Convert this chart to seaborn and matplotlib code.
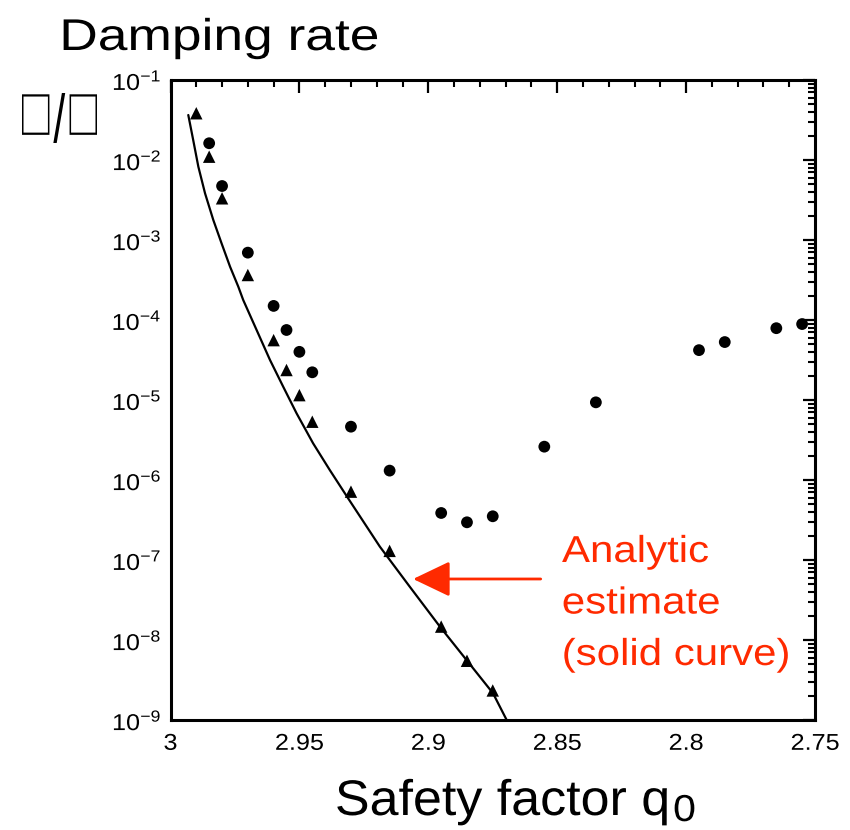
import matplotlib
matplotlib.use("Agg")
import matplotlib.pyplot as plt
import matplotlib.ticker as mticker
from matplotlib.patheffects import AbstractPathEffect
from matplotlib.transforms import Affine2D
import numpy as np
import pandas as pd
import seaborn as sns

# ---- data ----
tri_q = [2.990, 2.985, 2.980, 2.970, 2.960, 2.955, 2.950, 2.945, 2.930, 2.915, 2.895, 2.885, 2.875]
tri_g = [3.84e-2, 1.10e-2, 3.32e-3, 3.65e-4, 5.6e-5, 2.37e-5, 1.15e-5, 5.35e-6, 7.15e-7, 1.30e-7,
         1.47e-8, 5.5e-9, 2.34e-9]

circ_q = [2.985, 2.980, 2.970, 2.960, 2.955, 2.950, 2.945, 2.930, 2.915, 2.895, 2.885, 2.875,
          2.855, 2.835, 2.795, 2.785, 2.765, 2.755]
circ_g = [1.62e-2, 4.73e-3, 6.95e-4, 1.50e-4, 7.5e-5, 4.0e-5, 2.22e-5, 4.64e-6, 1.31e-6, 3.87e-7,
          2.96e-7, 3.52e-7, 2.61e-6, 9.35e-6, 4.2e-5, 5.3e-5, 7.9e-5, 8.9e-5]

curve_q = [2.9931, 2.9912, 2.9892, 2.9866, 2.9834, 2.9802, 2.9769, 2.9737, 2.9718, 2.9666, 2.9614,
           2.9563, 2.9511, 2.9447, 2.9382, 2.9311, 2.9188, 2.9072, 2.8955, 2.8749, 2.8696]
curve_g = [3.65e-2, 1.78e-2, 8.25e-3, 3.83e-3, 1.78e-3, 9.1e-4, 4.64e-4, 2.61e-4, 1.78e-4, 7.5e-5,
           3.16e-5, 1.47e-5, 6.82e-6, 2.88e-6, 1.33e-6, 5.9e-7, 1.47e-7, 4.64e-8, 1.47e-8, 2.16e-9, 1.0e-9]

x_ticks = [3.0, 2.95, 2.9, 2.85, 2.8, 2.75]
x_ticklabels = ["3", "2.95", "2.9", "2.85", "2.8", "2.75"]

title_text = "Damping rate"
ylabel_text = "\u25a1/\u25a1"
xlabel_main = "Safety factor q"
xlabel_sub = "0"
note_lines = ["Analytic", "estimate", "(solid curve)"]

W, H = 850, 830


class HStretch(AbstractPathEffect):
    """Stretch drawn text horizontally about its left / centre / right edge."""
    def __init__(self, sx, anchor="left"):
        super().__init__()
        self.sx = sx
        self.anchor = anchor

    def draw_path(self, renderer, gc, tpath, affine, rgbFace=None):
        ext = tpath.transformed(affine).get_extents()
        if self.anchor == "left":
            x0 = ext.x0
        elif self.anchor == "right":
            x0 = ext.x1
        else:
            x0 = 0.5 * (ext.x0 + ext.x1)
        t = affine + Affine2D().translate(-x0, 0).scale(self.sx, 1.0).translate(x0, 0)
        renderer.draw_path(gc, tpath, t, rgbFace)


class FitBox(AbstractPathEffect):
    """Draw the text glyphs scaled so their ink fills a pixel box (top-left origin)."""
    def __init__(self, left, top, right, bottom):
        super().__init__()
        self.box = (left, H - bottom, right, H - top)

    def draw_path(self, renderer, gc, tpath, affine, rgbFace=None):
        ext = tpath.transformed(affine).get_extents()
        x0, y0, x1, y1 = self.box
        sx = (x1 - x0) / max(ext.width, 1e-6)
        sy = (y1 - y0) / max(ext.height, 1e-6)
        t = affine + Affine2D().translate(-ext.x0, -ext.y0).scale(sx, sy).translate(x0, y0)
        renderer.draw_path(gc, tpath, t, rgbFace)


# ---- style ----
sns.set_style("white")
plt.rcParams["font.family"] = ["Liberation Sans", "DejaVu Sans"]
plt.rcParams["mathtext.fontset"] = "custom"
plt.rcParams["mathtext.rm"] = "Liberation Sans"
plt.rcParams["mathtext.it"] = "Liberation Sans:italic"
plt.rcParams["mathtext.default"] = "regular"
plt.rcParams["text.color"] = "black"
plt.rcParams["axes.labelcolor"] = "black"
plt.rcParams["xtick.color"] = "black"
plt.rcParams["ytick.color"] = "black"

fig = plt.figure(figsize=(W / 100, H / 100), dpi=100)
ax = fig.add_axes([170.5 / W, 1 - 720 / H, 644.5 / W, 640 / H])

curve_df = pd.DataFrame({"q": curve_q, "g": curve_g})
tri_df = pd.DataFrame({"q": tri_q, "g": tri_g})
circ_df = pd.DataFrame({"q": circ_q, "g": circ_g})

sns.lineplot(data=curve_df, x="q", y="g", ax=ax, color="black", lw=1.6, sort=False)
sns.scatterplot(data=tri_df, x="q", y="g", ax=ax, marker="^", s=80, color="black", edgecolor="none")
sns.scatterplot(data=circ_df, x="q", y="g", ax=ax, marker="o", s=72, color="black", edgecolor="none")

ax.set_yscale("log")
ax.set_xlim(3.0, 2.75)
ax.set_ylim(1e-9, 1e-1)

ax.set_xticks(x_ticks)
ax.set_xticklabels(x_ticklabels)
ax.xaxis.set_minor_locator(mticker.MultipleLocator(0.01))
ax.yaxis.set_major_locator(mticker.LogLocator(base=10, numticks=20))
ax.yaxis.set_minor_locator(mticker.LogLocator(base=10, subs=np.arange(2, 10), numticks=20))
ax.yaxis.set_minor_formatter(mticker.NullFormatter())

ax.tick_params(which="both", direction="in", top=True, right=True, colors="black", labelsize=16.5)
ax.tick_params(which="major", length=9, width=1.6)
ax.tick_params(which="minor", length=4.8, width=1.5)
ax.tick_params(axis="x", pad=8.5)
ax.tick_params(axis="y", pad=6.5)
for s in ax.spines.values():
    s.set_linewidth(2.2)
    s.set_color("black")

ax.set_xlabel("")
ax.set_ylabel("")

# title
t_title = fig.text(60 / W, 1 - 50 / H, title_text, fontsize=32, ha="left", va="baseline",
                   color="black")
t_title.set_path_effects([HStretch(1.2, "left")])

# y label
t_ylab = fig.text(60 / W, 1 - 118 / H, ylabel_text, fontsize=24, ha="center", va="center",
                  family=["Noto Sans CJK JP", "DejaVu Sans"], fontweight="bold", color="black")
t_ylab.set_path_effects([FitBox(22, 93, 97, 143)])

# x label
t_xlab = fig.text(335 / W, 1 - 815 / H, xlabel_main, fontsize=36, ha="left", va="baseline",
                  color="black")
t_xlab.set_path_effects([HStretch(1.04, "left")])
t_sub = fig.text(684.5 / W, 1 - 821 / H, xlabel_sub, fontsize=27, ha="center", va="baseline",
                 color="black")
t_sub.set_path_effects([HStretch(1.1, "center")])

# annotation
red = "#ff2a00"
ax.annotate("", xy=(2.9059, 5.79e-8), xytext=(2.8564, 5.79e-8),
            arrowprops=dict(arrowstyle="-|>,head_length=1.15,head_width=0.55", color=red, lw=2.0,
                            shrinkA=0, shrinkB=0, mutation_scale=20))
for line, base in zip(note_lines, [562, 613.5, 665]):
    t = fig.text(562 / W, 1 - base / H, line, color=red, fontsize=27, ha="left", va="baseline")
    t.set_path_effects([HStretch(1.12, "left")])

fig.canvas.draw()
for lab in ax.get_xticklabels():
    lab.set_path_effects([HStretch(1.1, "center")])
for lab in ax.get_yticklabels():
    lab.set_path_effects([HStretch(1.1, "right")])

fig.savefig("out.png", dpi=100)
